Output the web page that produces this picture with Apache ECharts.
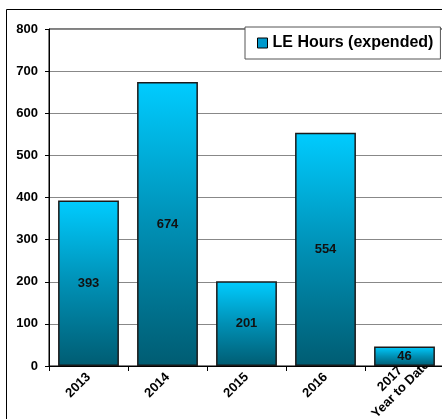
<!DOCTYPE html>
<html><head><meta charset="utf-8">
<script src="https://cdn.jsdelivr.net/npm/echarts@6/dist/echarts.min.js"></script>
<style>html,body{margin:0;padding:0;background:#fff}#c{width:442px;height:419px}</style>
</head><body><div id="c"></div>
<script>
const categories = ['2013', '2014', '2015', '2016', '2017\nYear to Date'];
const hours = [393, 674, 201, 554, 46];
const seriesName = 'LE Hours (expended)';
const yTicks = { min: 0, max: 800, interval: 100 };

const chart = echarts.init(document.getElementById('c'), null, { renderer: 'canvas' });
const font = '"Liberation Sans", Arial, sans-serif';
const xData = categories.map(function (c, i) {
  if (i === categories.length - 1) {
    return { value: c, textStyle: { align: 'center', verticalAlign: 'middle', padding: [17, 26, 0, 0], lineHeight: 15 } };
  }
  return c;
});
chart.setOption({
  animation: false,
  backgroundColor: '#fff',
  graphic: [{
    type: 'rect', z: 100, silent: true,
    shape: { x: 6.5, y: 9.5, width: 460, height: 440 },
    style: { fill: 'none', stroke: '#000', lineWidth: 1 }
  }],
  grid: { left: 49, right: -2, top: 29, bottom: 53, outerBoundsMode: 'none', containLabel: false,
          show: true, borderColor: '#000', borderWidth: 1, backgroundColor: 'transparent' },
  legend: {
    left: 245, top: 27, padding: [8, 7, 8, 12],
    backgroundColor: '#fff', borderColor: '#555', borderWidth: 1,
    itemWidth: 10, itemHeight: 10, itemGap: 2,
    textStyle: { fontFamily: font, fontWeight: 'bold', fontSize: 16, color: '#000' },
    data: [{ name: seriesName, icon: 'rect', itemStyle: { color: '#0099cc', borderColor: '#000', borderWidth: 1 } }]
  },
  xAxis: {
    type: 'category', data: xData,
    axisLine: { lineStyle: { color: '#000' } },
    axisTick: { show: true, length: 5, lineStyle: { color: '#000' } },
    axisLabel: { rotate: 45, margin: 9, interval: 0, verticalAlign: 'middle',
                 fontFamily: font, fontWeight: 'bold', fontSize: 13, color: '#000', lineHeight: 15 }
  },
  yAxis: {
    type: 'value', min: yTicks.min, max: yTicks.max, interval: yTicks.interval,
    axisLine: { show: true, lineStyle: { color: '#000' } },
    axisTick: { show: true, length: 4, lineStyle: { color: '#000' } },
    axisLabel: { margin: 11, fontFamily: font, fontWeight: 'bold', fontSize: 13, color: '#000' },
    splitLine: { lineStyle: { color: '#888', width: 1 } }
  },
  series: [{
    name: seriesName, type: 'bar', data: hours, barCategoryGap: '23%',
    itemStyle: {
      borderColor: '#1a1a1a', borderWidth: 1.5,
      color: new echarts.graphic.LinearGradient(0, 0, 0, 1, [
        { offset: 0, color: '#00CCFF' },
        { offset: 0.5, color: '#0090B5' },
        { offset: 1, color: '#005C72' }
      ])
    },
    label: { show: true, position: 'inside', fontFamily: font, fontWeight: 'bold', fontSize: 13, color: '#111' }
  }]
});
</script></body></html>
